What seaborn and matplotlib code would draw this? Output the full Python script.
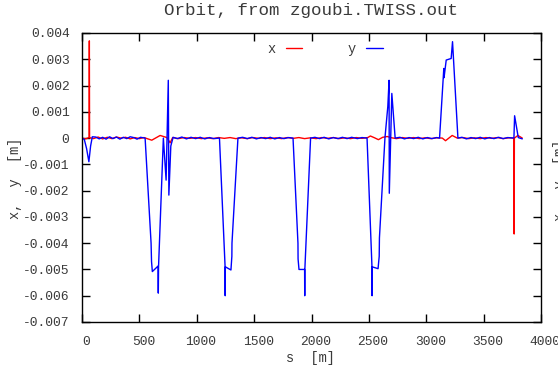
import matplotlib
matplotlib.use("Agg")
import matplotlib.pyplot as plt
import matplotlib.transforms as mtransforms
from matplotlib.lines import Line2D
import seaborn as sns
import pandas as pd

# ---- data ----
s_x = [0, 30, 62, 64, 66, 100, 140, 180, 220, 260, 300, 340, 380, 420, 460, 500,
       540, 608, 681, 740, 768, 790, 840, 890, 940, 990, 1040, 1090, 1140, 1190,
       1240, 1290, 1340, 1390, 1440, 1490, 1540, 1590, 1640, 1690, 1740, 1790,
       1840, 1890, 1940, 1990, 2040, 2090, 2140, 2190, 2240, 2290, 2340, 2390,
       2440, 2490, 2513, 2550, 2583, 2620, 2660, 2700, 2740, 2790, 2840, 2890,
       2940, 2990, 3040, 3090, 3140, 3168, 3226, 3270, 3320, 3370, 3420, 3470,
       3520, 3570, 3620, 3670, 3720, 3764, 3766, 3768, 3799, 3837]
x_vals = [0.0, -0.00003, 0.00002, 0.0037, 0.00002, -0.00002, 0.00004, -0.00003,
          0.00003, -0.00002, 0.00004, 0.0, 0.00003, -0.00003, 0.00002, -0.00002,
          0.00002, -0.00008, 0.0001, 0.00002, -0.00018, 0.00002, -0.00002,
          0.00002, -0.00001, 0.00002, -0.00002, 0.00001, -0.00002, 0.00002,
          -0.00001, 0.00002, -0.00002, 0.00001, -0.00002, 0.00002, -0.00001,
          0.00002, -0.00002, 0.00001, -0.00002, 0.00002, -0.00001, 0.00002,
          -0.00002, 0.00001, -0.00002, 0.00002, -0.00001, 0.00002, -0.00002,
          0.00001, -0.00002, 0.00002, -0.00001, 0.00002, 0.00008, 0.00001,
          -0.00006, 0.00003, 0.00006, 0.00001, -0.00002, 0.00002, -0.00001,
          0.00002, -0.00002, 0.00001, -0.00002, 0.00001, 0.0, -0.0001, 0.0001,
          0.0, 0.00002, -0.00002, 0.00001, -0.00002, 0.00002, -0.00001, 0.00002,
          -0.00002, 0.00001, 0.0, -0.00365, 0.0, 0.0001, 0.0]

s_y = [0, 20, 40, 60, 75, 90, 120, 150, 180, 210, 240, 270, 300, 330, 360, 390,
       420, 450, 480, 510, 550, 602, 606, 613, 663, 665, 667, 709, 733, 752, 757,
       774, 794, 830, 870, 910, 950, 990, 1030, 1070, 1110, 1150, 1198, 1247,
       1248, 1249, 1298, 1306, 1307, 1359, 1400, 1440, 1480, 1520, 1560, 1600,
       1640, 1680, 1720, 1760, 1800, 1839, 1882, 1883, 1891, 1940, 1941, 1942,
       1992, 2030, 2070, 2110, 2150, 2190, 2230, 2270, 2310, 2350, 2400, 2440,
       2484, 2527, 2528, 2529, 2580, 2590, 2592, 2640, 2665, 2676, 2678, 2700,
       2729, 2770, 2810, 2850, 2890, 2930, 2970, 3010, 3050, 3090, 3116, 3153,
       3155, 3174, 3217, 3229, 3276, 3310, 3350, 3390, 3430, 3470, 3510, 3550,
       3590, 3630, 3670, 3710, 3764, 3770, 3802, 3837]
y_vals = [0.0, -0.00005, -0.0004, -0.0009, -0.0003, 0.00005, 0.00004, -0.00003,
          0.00003, -0.00004, 0.00005, -0.00002, 0.00004, -0.00004, 0.00003,
          -0.00002, 0.00005, 0.00002, -0.00004, 0.00003, 0.0, -0.0040, -0.0047,
          -0.00508, -0.00487, -0.0059, -0.0049, 0.0, -0.0016, 0.0022, -0.00217,
          -0.0003, 0.00003, -0.00002, 0.00004, -0.00003, 0.00003, -0.00002,
          0.00003, -0.00003, 0.00002, -0.00002, 0.0, -0.0049, -0.0060, -0.0049,
          -0.00502, -0.0045, -0.0040, 0.0, 0.00003, -0.00002, 0.00003, -0.00003,
          0.00002, -0.00002, 0.00003, -0.00003, 0.00002, -0.00002, 0.00002, 0.0,
          -0.0040, -0.0046, -0.0050, -0.0050, -0.0060, -0.0050, 0.0, 0.00003,
          -0.00002, 0.00003, -0.00003, 0.00002, -0.00002, 0.00003, -0.00002,
          0.00003, -0.00002, 0.00002, 0.0, -0.0049, -0.0060, -0.0049, -0.00497,
          -0.0045, -0.0038, 0.0, 0.0012, 0.0022, -0.0021, 0.0017, 0.0, 0.00003,
          -0.00003, 0.00002, -0.00002, 0.00003, -0.00003, 0.00002, -0.00002,
          0.00002, 0.0, 0.00265, 0.0023, 0.00297, 0.00303, 0.00367, 0.0,
          0.00003, -0.00003, 0.00002, -0.00002, 0.00003, -0.00003, 0.00002,
          -0.00002, 0.00003, -0.00002, 0.00002, 0.0, 0.00085, 0.00002, -0.00003]

x_ticks = [0, 500, 1000, 1500, 2000, 2500, 3000, 3500, 4000]
y_ticks = [0.004, 0.003, 0.002, 0.001, 0, -0.001, -0.002, -0.003, -0.004,
           -0.005, -0.006, -0.007]
y_tick_labels = ["0.004", "0.003", "0.002", "0.001", "0", "-0.001", "-0.002",
                 "-0.003", "-0.004", "-0.005", "-0.006", "-0.007"]

title = "Orbit, from zgoubi.TWISS.out"
xlabel = "s  [m]"
ylabel = "x,  y  [m]"

df = pd.concat([
    pd.DataFrame({"s": s_x, "v": x_vals, "series": "x"}),
    pd.DataFrame({"s": s_y, "v": y_vals, "series": "y"}),
], ignore_index=True)

sns.set_style("ticks")
plt.rcParams["font.family"] = ["Liberation Mono", "DejaVu Sans Mono"]
txt_col = "#3a3a3a"

fig = plt.figure(figsize=(5.58, 3.70), dpi=100)
ax = fig.add_axes([82 / 558, 1 - 322 / 370, (541 - 82) / 558, (322 - 33) / 370])

sns.lineplot(data=df, x="s", y="v", hue="series", palette={"x": "#ff0000", "y": "#0000ff"},
             estimator=None, sort=False, linewidth=1.0, ax=ax, legend=False)

ax.set_xlim(0, 4000)
ax.set_ylim(-0.007, 0.004)
ax.set_xticks(x_ticks)
ax.set_xticklabels([str(t) for t in x_ticks])
ax.set_yticks(y_ticks)
ax.set_yticklabels(y_tick_labels)
ax.tick_params(direction="in", length=6, width=1.0, top=True, right=True,
               labelsize=9.4, colors="black", labelcolor=txt_col)
ax.tick_params(axis="x", pad=10)
ax.tick_params(axis="y", pad=9)
offset = mtransforms.ScaledTranslation(4 / 100, 0, fig.dpi_scale_trans)
for lab in ax.get_xticklabels():
    lab.set_transform(lab.get_transform() + offset)
for sp in ax.spines.values():
    sp.set_visible(True)
    sp.set_linewidth(1.0)
    sp.set_color("black")

ax.set_xlabel("")
ax.set_ylabel("")
fig.text(310 / 558, 1 - 358 / 370, xlabel, ha="center", va="center", fontsize=9.8, color=txt_col)
fig.text(15 / 558, 1 - 178 / 370, ylabel, ha="center", va="center", rotation=90,
         fontsize=9.8, color=txt_col)
fig.text(560 / 558, 1 - 180 / 370, ylabel, ha="center", va="center", rotation=90,
         fontsize=9.8, color=txt_col)
fig.text(311 / 558, 1 - 10 / 370, title, ha="center", va="center", fontsize=12.6, color=txt_col)

# legend in gnuplot style: label then line sample
handles = [Line2D([], [], color="#ff0000", lw=1.0), Line2D([], [], color="#0000ff", lw=1.0)]
ax.legend(handles, ["x", "y"], loc="center", bbox_to_anchor=(0.529, 0.946), ncol=2,
          markerfirst=False, frameon=False, handlelength=1.2, columnspacing=3.3,
          handletextpad=0.8, fontsize=9.8, labelcolor=txt_col)

fig.savefig("out.png", dpi=100)
